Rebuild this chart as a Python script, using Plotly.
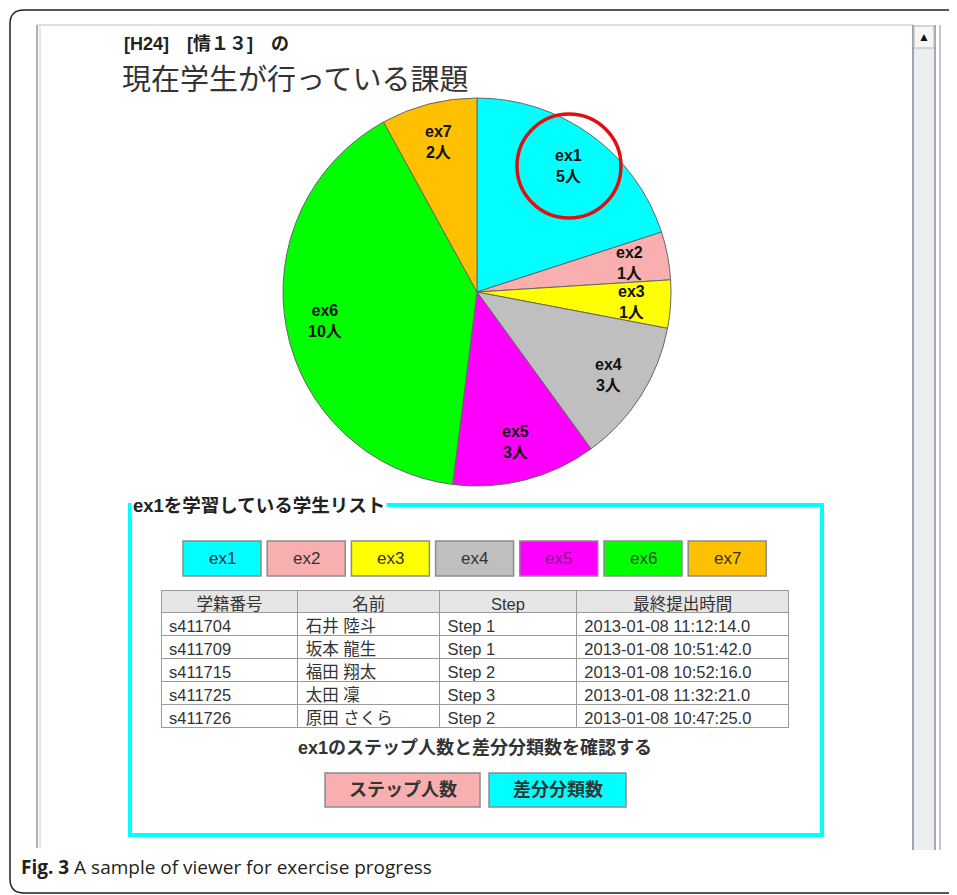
import math
import plotly.graph_objects as go

# ---------------- data ----------------
exercises = ["ex1", "ex2", "ex3", "ex4", "ex5", "ex6", "ex7"]
students = [5, 1, 1, 3, 3, 10, 2]
slice_colors = ["#00FFFF", "#F9AFAF", "#FFFF00", "#BFBFBF", "#FF00FF", "#00FF00", "#FFC000"]
button_text_colors = ["#1b2a4a", "#333333", "#333333", "#333333", "#7a1f85", "#2a4a2a", "#3a3020"]

title_small = "[H24]　[情１３]　の"
title_big = "現在学生が行っている課題"
list_title = "ex1を学習している学生リスト"

table_header = ["学籍番号", "名前", "Step", "最終提出時間"]
student_ids = ["s411704", "s411709", "s411715", "s411725", "s411726"]
student_names = ["石井 陸斗", "坂本 龍生", "福田 翔太", "太田 凜", "原田 さくら"]
student_steps = ["Step 1", "Step 1", "Step 2", "Step 3", "Step 2"]
last_submit = ["2013-01-08 11:12:14.0", "2013-01-08 10:51:42.0", "2013-01-08 10:52:16.0",
               "2013-01-08 11:32:21.0", "2013-01-08 10:47:25.0"]

check_text = "ex1のステップ人数と差分分類数を確認する"
action_buttons = ["ステップ人数", "差分分類数"]
action_colors = ["#F9AFAF", "#00FFFF"]
caption_bold = "Fig. 3"
caption_rest = "A sample of viewer for exercise progress"

# ---------------- helpers ----------------
W, H = 957, 895
OFF = 8  # page body margin compensation


def X(x):
    return (x - OFF) / W


def Y(y):
    return 1 - (y - OFF) / H


JP = "Liberation Sans, Noto Sans CJK JP, sans-serif"

fig = go.Figure()

# pie chart geometry (screen pixels)
PIE_L, PIE_R, PIE_T, PIE_B = 283, 671, 97, 487
cx, cy = (PIE_L + PIE_R) / 2, (PIE_T + PIE_B) / 2
radius = min(PIE_R - PIE_L, PIE_B - PIE_T) / 2

fig.add_trace(go.Pie(
    labels=exercises, values=students, sort=False, direction="clockwise", rotation=0,
    marker=dict(colors=slice_colors, line=dict(color="#666666", width=1)),
    textinfo="none", showlegend=False, hoverinfo="skip",
    domain=dict(x=[X(PIE_L), X(PIE_R)], y=[Y(PIE_B), Y(PIE_T)]),
))

annotations = []

# slice labels at 0.8 R on each slice's mid-angle (derived from the data)
total = sum(students)
cum = 0
for name, val in zip(exercises, students):
    mid = (cum + val / 2) / total * 2 * math.pi
    cum += val
    lx = cx + 0.8 * radius * math.sin(mid)
    ly = cy - 0.8 * radius * math.cos(mid)
    annotations.append(dict(x=X(lx), y=Y(ly), xref="paper", yref="paper", xanchor="center",
                            yanchor="middle", showarrow=False, text=f"<b>{name}<br>{val}人</b>",
                            font=dict(family=JP, size=16, color="#111111")))

# table
fig.add_trace(go.Table(
    domain=dict(x=[X(161), X(790)], y=[Y(730), Y(590)]),
    columnwidth=[137, 142, 137, 213],
    header=dict(values=table_header, fill_color="#E6E6E6", line_color="#9a9a9a",
                align="center", height=22,
                font=dict(family=JP, size=16.5, color="#333333")),
    cells=dict(values=[student_ids, student_names, student_steps, last_submit],
               fill_color="white", line_color="#9a9a9a", align="left", height=23,
               font=dict(family=JP, size=16.5, color="#333333")),
))

shapes = []


def P(x, y):
    return f"{X(x):.5f},{Y(y):.5f}"


# outer rounded frame
frame = (f"M {P(975, 10)} L {P(24, 10)} Q {P(10, 10)} {P(10, 24)} "
         f"L {P(10, 879)} Q {P(10, 893)} {P(24, 893)} L {P(975, 893)}")
shapes.append(dict(type="path", xref="paper", yref="paper", path=frame,
                   line=dict(color="#222222", width=1.5)))


def hline(x0, x1, y, color, width):
    shapes.append(dict(type="line", xref="paper", yref="paper", x0=X(x0), x1=X(x1), y0=Y(y), y1=Y(y),
                       line=dict(color=color, width=width)))


def vline(x, y0, y1, color, width):
    shapes.append(dict(type="line", xref="paper", yref="paper", x0=X(x), x1=X(x), y0=Y(y0), y1=Y(y1),
                       line=dict(color=color, width=width)))


def rect(x0, x1, y0, y1, fill, lcolor, lwidth):
    shapes.append(dict(type="rect", xref="paper", yref="paper", x0=X(x0), x1=X(x1), y0=Y(y0), y1=Y(y1),
                       fillcolor=fill, line=dict(color=lcolor, width=lwidth)))


def text(x, y, s, size, color, family=JP, xanchor="center", **kw):
    annotations.append(dict(x=X(x), y=Y(y), xref="paper", yref="paper", xanchor=xanchor,
                            yanchor="middle", text=s, showarrow=False,
                            font=dict(family=family, size=size, color=color), **kw))


# screenshot window edges
hline(37, 913, 25, "#d4d4d4", 1.5)
vline(37, 25, 848, "#b0b0b0", 2)
vline(40, 25, 848, "#dcdcdc", 1.5)
# scrollbar
rect(913, 935, 25, 850, "#eceef0", "rgba(0,0,0,0)", 0)
vline(913, 25, 850, "#9aa5b1", 2)
vline(935, 25, 850, "#a9a9b4", 2)
vline(940, 25, 850, "#c4c4cc", 2)
rect(914, 934, 26, 48, "#f6f6f6", "#b8b8b8", 1)
text(924, 37, "▲", 12, "#111111")

# red highlight circle on ex1
shapes.append(dict(type="circle", xref="paper", yref="paper", x0=X(517), x1=X(621), y0=Y(114), y1=Y(218),
                   line=dict(color="#E01010", width=3.5)))

# fieldset
rect(130, 822, 505, 835, "rgba(0,0,0,0)", "#00FFFF", 4)
text(131, 505, f"<b>{list_title}</b>", 18.5, "#222222", xanchor="left", bgcolor="white", borderpad=1)

# exercise buttons
for i, (name, col, tcol) in enumerate(zip(exercises, slice_colors, button_text_colors)):
    x0 = 183 + i * 84.2
    rect(x0, x0 + 78, 541, 576, col, "#8c8c8c", 1.5)
    text(x0 + 39, 558.5, name, 17, tcol, family="Liberation Sans Narrow, Liberation Sans")

# check text
text(475, 748, f"<b>{check_text}</b>", 18, "#333333")

# action buttons
btn_x = [(325, 480), (489, 626)]
for (x0, x1), label, col in zip(btn_x, action_buttons, action_colors):
    rect(x0, x1, 773, 807, col, "#8c8c8c", 1.5)
    text((x0 + x1) / 2, 790, f"<b>{label}</b>", 18, "#333333")

# titles
text(122, 44, f"<b>{title_small}</b>", 18, "#222222", xanchor="left")
text(120, 77, title_big, 29, "#333333", family="Noto Sans CJK JP", xanchor="left")

# caption
text(19, 867, f"<b>{caption_bold}</b> {caption_rest}", 19, "#231f20", family="Open Sans", xanchor="left")

fig.update_layout(
    width=W, height=H, margin=dict(l=0, r=0, t=0, b=0),
    paper_bgcolor="white", plot_bgcolor="white",
    shapes=shapes, annotations=annotations,
)

fig.write_html("out.html")
